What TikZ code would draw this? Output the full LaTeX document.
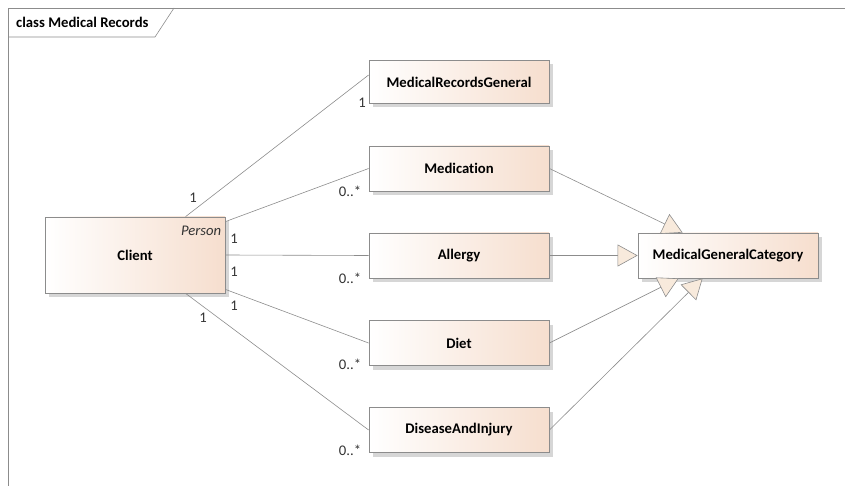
\documentclass[tikz,border=0pt]{standalone}
\usepackage{fontspec}
\setmainfont{Carlito}[Ligatures={NoCommon}]
\usetikzlibrary{arrows.meta,shadows,calc}
\definecolor{peach}{HTML}{F6DECE}
\definecolor{linegray}{HTML}{8C8C8C}
\definecolor{trifill}{HTML}{F8EADC}
\tikzset{
  cls/.style={draw=linegray, line width=0.8pt, left color=white, right color=peach,
    minimum width=180pt, inner sep=0pt,
    drop shadow={shadow xshift=4pt, shadow yshift=-4pt, fill=black!16, opacity=1},
    font=\bfseries\fontsize{14.7}{16}\selectfont},
  assoc/.style={draw=linegray, line width=0.6pt},
  gen/.style={draw=linegray, line width=0.6pt,
    -{Triangle[length=20pt,width=22pt,fill=trifill,color=linegray,line width=0.6pt]}},
  mult/.style={font=\fontsize{14.7}{16}\selectfont, inner sep=0pt, text=black!80},
}
\begin{document}
\begin{tikzpicture}[x=1pt,y=-1pt]
\useasboundingbox (0,0) rectangle (845,486);
% frame
\draw[linegray, line width=0.6pt] (8,486) -- (8,8) -- (845,8);
\draw[linegray, line width=0.6pt] (8,37) -- (155,37) -- (174,8);
\node[anchor=base west, inner sep=0pt, font=\bfseries\fontsize{14.7}{16}\selectfont] (title) at (16,28) {class Medical Records};
% classes
\node[cls, minimum height=76pt] (client) at (135,255) {Client};
\node[anchor=north east, inner sep=0pt, font=\itshape\fontsize{14.7}{16}\selectfont, text=black!80] (stereo) at ($(client.north east)+(-4,9)$) {Person};
\node[cls, minimum height=43pt] (mrg) at (459,82) {MedicalRecordsGeneral};
\node[cls, minimum height=45pt] (med) at (459,168.5) {Medication};
\node[cls, minimum height=45pt] (all) at (459,255.5) {Allergy};
\node[cls, minimum height=45pt] (diet) at (459,343) {Diet};
\node[cls, minimum height=45pt] (dis) at (459,430) {DiseaseAndInjury};
\node[cls, minimum height=45pt] (mgc) at (728,255.5) {MedicalGeneralCategory};
% association endpoints
\coordinate (c1) at ($(client.north west)+(141,0)$);
\coordinate (c2) at ($(client.north east)+(0,5)$);
\coordinate (c3) at ($(client.east)$);
\coordinate (c4) at ($(client.south east)+(0,-4)$);
\coordinate (c5) at ($(client.south west)+(141,0)$);
\coordinate (m1) at ($(mrg.west)+(0,-7)$);
% associations
\draw[assoc] (c1) -- (m1);
\draw[assoc] (c2) -- (med.west);
\draw[assoc] (c3) -- (all.west);
\draw[assoc] (c4) -- (diet.west);
\draw[assoc] (c5) -- (dis.west);
% multiplicities
\node[mult] (l1a) at (193,198) {1};
\node[mult] (l1b) at (362,103) {1};
\node[mult] (l2a) at (234,239) {1};
\node[mult] (l2b) at (350,191) {0..*};
\node[mult] (l3a) at (234,272) {1};
\node[mult] (l3b) at (350,278) {0..*};
\node[mult] (l4a) at (234,306) {1};
\node[mult] (l4b) at (350,364) {0..*};
\node[mult] (l5a) at (203,318) {1};
\node[mult] (l5b) at (350,450) {0..*};
% generalizations
\coordinate (t1) at ($(mgc.north west)+(45,0)$);
\coordinate (t3) at ($(mgc.south west)+(41,0)$);
\coordinate (t4) at ($(mgc.south west)+(65,0)$);
\draw[gen] (med.east) -- (t1);
\draw[gen] (all.east) -- (mgc.west);
\draw[gen] (diet.east) -- (t3);
\draw[gen] (dis.east) -- (t4);
\end{tikzpicture}
\end{document}
